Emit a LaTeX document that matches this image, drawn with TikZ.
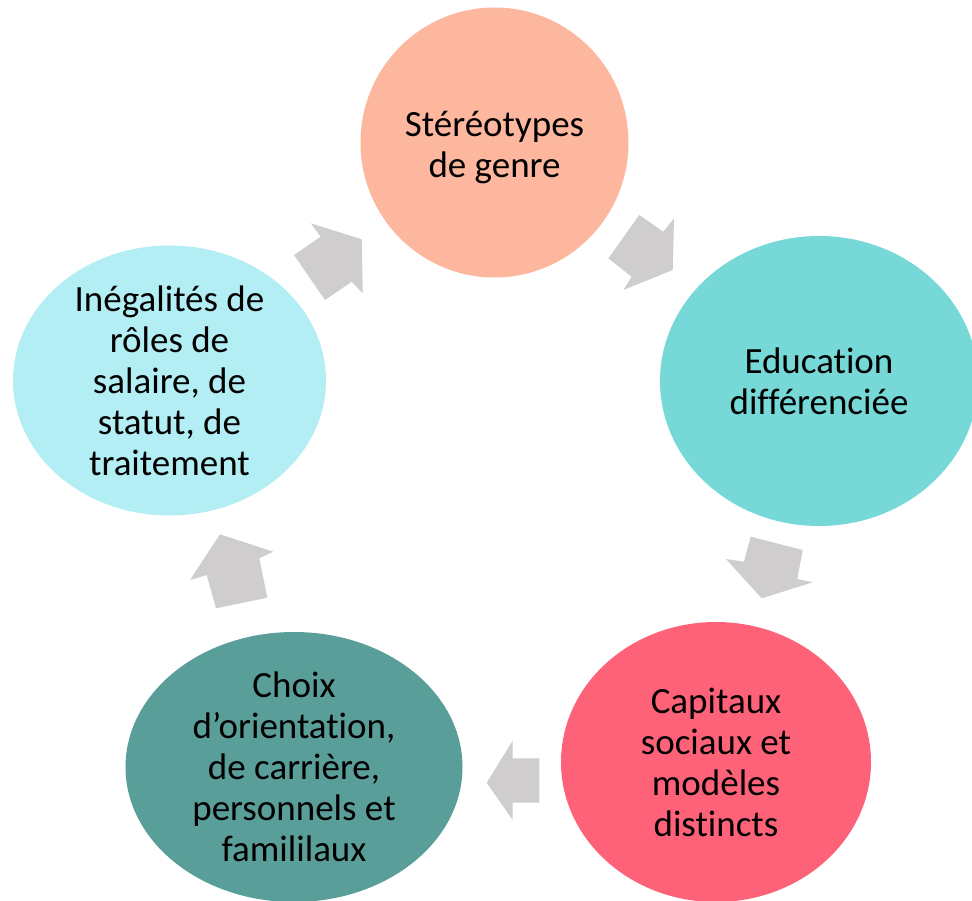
\documentclass[tikz,border=0pt]{standalone}
\usepackage{fontspec}
\setmainfont{Carlito}[Ligatures=NoCommon]
\usetikzlibrary{shapes.geometric}
\definecolor{cTop}{HTML}{FDB79E}
\definecolor{cRight}{HTML}{76D8D7}
\definecolor{cBR}{HTML}{FE6278}
\definecolor{cBL}{HTML}{5A9E9A}
\definecolor{cLeft}{HTML}{B3EEF4}
\definecolor{cArrow}{HTML}{CFCDCE}
\tikzset{
  blob/.style={ellipse, draw=none, inner sep=0pt},
  lbl/.style={align=center, font=\fontsize{37}{41}\selectfont, text=black, inner sep=0pt},
  cyclearrow/.style={fill=cArrow, draw=none},
}
\begin{document}
\begin{tikzpicture}[x=1pt,y=-1pt]
\useasboundingbox (0,0) rectangle (972,900);
\clip (0,0) rectangle (972,900);
\fill[white] (0,0) rectangle (972,900);
% ellipses
\node[blob, fill=cTop, minimum width=268pt, minimum height=270pt] (top) at (494.5,142.5) {};
\node[blob, fill=cRight, minimum width=318pt, minimum height=290pt] (right) at (819,381) {};
\node[blob, fill=cBR, minimum width=310pt, minimum height=280pt] (br) at (716,762) {};
\node[blob, fill=cBL, minimum width=337pt, minimum height=270pt] (bl) at (294,767) {};
\node[blob, fill=cLeft, minimum width=313pt, minimum height=270pt] (left) at (169.5,380.5) {};
% labels
\node[lbl] (ttop) at ([yshift=-5pt]top.center) {Stéréotypes\\de genre};
\node[lbl] (tright) at (right.center) {Education\\différenciée};
\node[lbl] (tbr) at (br.center) {Capitaux\\sociaux et\\modèles\\distincts};
\node[lbl] (tbl) at (bl.center) {Choix\\d’orientation,\\de carrière,\\personnels et\\famililaux};
\node[lbl] (tleft) at (left.center) {Inégalités de\\rôles de\\salaire, de\\statut, de\\traitement};
% block arrows
\fill[cyclearrow] (294,255) -- (320.7,236.7) -- (310.7,223.3) -- (361.7,239.3) -- (362.7,293.3) -- (351.7,281.7) -- (325,300) -- cycle;
\fill[cyclearrow] (639.3,215) -- (663.3,231.7) -- (674,218.3) -- (672.7,270) -- (623.3,290) -- (631.7,276.7) -- (608.3,258.3) -- cycle;
\fill[cyclearrow] (750.7,536.7) -- (802.7,550) -- (797.3,579) -- (812.7,582.3) -- (761.7,598.3) -- (726,559) -- (744,561.7) -- cycle;
\fill[cyclearrow] (539.3,758.3) -- (512.7,758.3) -- (512.7,740.7) -- (486.7,782.7) -- (512.7,820) -- (512.7,802.7) -- (539.3,802.7) -- cycle;
\fill[cyclearrow] (267.3,597.7) -- (259.3,558.3) -- (273.3,551.7) -- (220,534.3) -- (190,580) -- (206.7,575) -- (216,608.3) -- cycle;
\end{tikzpicture}
\end{document}
